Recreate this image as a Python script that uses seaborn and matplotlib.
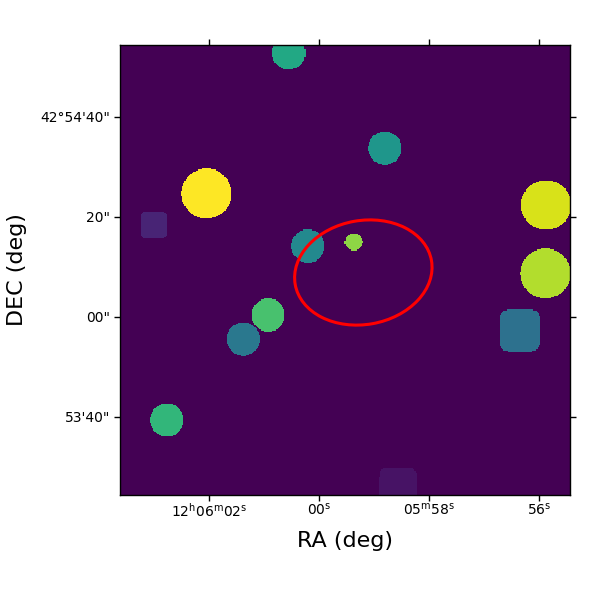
import numpy as np
import matplotlib
matplotlib.use("Agg")
import matplotlib.pyplot as plt
from matplotlib.patches import Ellipse
import seaborn as sns

# Segmentation regions, in image-pixel units
EXTENT = 270
GRID = 405
region_x = [51.9, 101.3, 158.9, 255.6, 255.3, 112.8, 140.3, 89.0, 73.9, 28.2, 20.3, 239.9, 166.8]
region_y = [89.1, 4.8, 61.8, 96.0, 137.1, 120.6, 118.2, 162.0, 176.4, 225.0, 108.0, 171.3, 270.0]
region_a = [15.0, 10.0, 10.0, 15.0, 15.0, 10.0, 5.4, 10.0, 10.0, 10.0, 7.6, 12.2, 11.2]
region_b = [15.0, 10.0, 10.0, 15.0, 15.0, 10.0, 5.0, 10.0, 10.0, 10.0, 8.2, 12.6, 16.0]
region_p = [2, 2, 2, 2, 2, 2, 2, 2, 2, 2, 7, 5, 8]
region_v = [1.0, 0.60, 0.525, 0.94, 0.885, 0.47, 0.83, 0.71, 0.40, 0.66, 0.10, 0.37, 0.05]

ell_center = (146.0, 136.5)
ell_size = (83.0, 62.4)
ell_angle = -10.0

x_tick_pos = [53.5, 119.5, 185.5, 251.5]
x_tick_labels = [r"$12^{\mathrm{h}}06^{\mathrm{m}}02^{\mathrm{s}}$", r"$00^{\mathrm{s}}$",
                 r"$05^{\mathrm{m}}58^{\mathrm{s}}$", r"$56^{\mathrm{s}}$"]
y_tick_pos = [43.2, 103.2, 163.2, 223.2]
y_tick_labels = ["42°54'40\"", "20\"", "00\"", "53'40\""]

k = GRID / EXTENT
yy, xx = (np.mgrid[0:GRID, 0:GRID] + 0.5) / k
img = np.zeros((GRID, GRID))
for x0, y0, a, b, p, v in zip(region_x, region_y, region_a, region_b, region_p, region_v):
    img[np.abs((xx - x0) / a) ** p + np.abs((yy - y0) / b) ** p <= 1] = v

fig = plt.figure(figsize=(6, 6), dpi=100)
ax = fig.add_axes([0.2, 0.175, 0.75, 0.75])
sns.heatmap(img, ax=ax, cmap="viridis", vmin=0, vmax=1, cbar=False, square=False,
            xticklabels=False, yticklabels=False, rasterized=True)
ax.add_patch(Ellipse((ell_center[0] * k, ell_center[1] * k), ell_size[0] * k, ell_size[1] * k,
                     angle=ell_angle, fill=False, edgecolor="red", linewidth=2.2))
ax.set_xticks(np.array(x_tick_pos) * k)
ax.set_xticklabels(x_tick_labels, rotation=0, fontsize=10)
ax.set_yticks(np.array(y_tick_pos) * k)
ax.set_yticklabels(y_tick_labels, rotation=0, fontsize=10)
ax.tick_params(top=True, right=True, length=4, width=1, direction="out")
ax.tick_params(axis="x", pad=1)
ax.tick_params(axis="y", pad=3)
ax.set_xlabel("RA (deg)", fontsize=16, labelpad=8)
ax.set_ylabel("DEC (deg)", fontsize=16, labelpad=10)
for s in ax.spines.values():
    s.set_visible(True)
    s.set_linewidth(1)
    s.set_color("black")
fig.savefig("out.png", dpi=100)
